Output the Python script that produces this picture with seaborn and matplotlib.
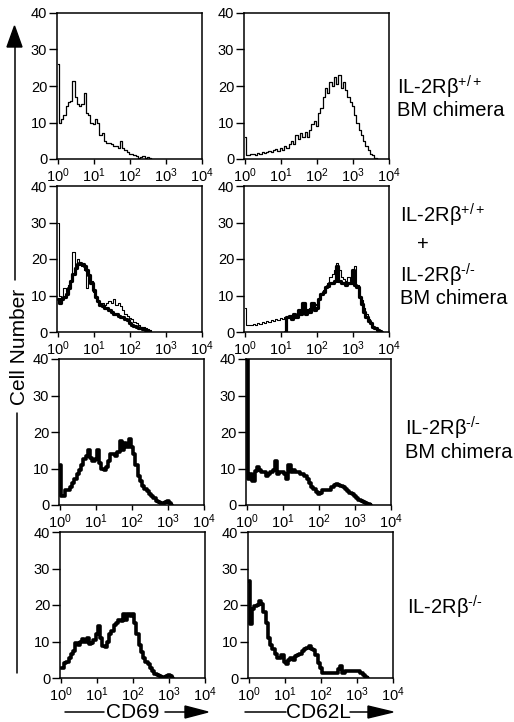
import numpy as np
import pandas as pd
import matplotlib
matplotlib.use("Agg")
import matplotlib.pyplot as plt
from matplotlib.lines import Line2D
from matplotlib.patches import Polygon
from matplotlib.ticker import LogFormatterMathtext, FixedLocator, NullLocator
import seaborn as sns

# ---- data: cell counts per log channel (16 channels per decade, from 10^0) ----
decades = [0, 1, 2, 3, 4]
y_ticks = [0, 10, 20, 30, 40]
markers = ["CD69", "CD62L"]

cd69_wt = [26, 10, 11, 12, 14.5, 15.5, 16, 21.5, 17, 15, 14.5, 15, 18, 12.5, 12, 10,
           9.5, 11, 10, 6.5, 7, 5, 4.5, 4.5, 4, 3.5, 3.5, 3, 5, 3, 2.5, 2,
           1.5, 1.5, 1, 0.7, 0.4, 0.6, 0.8, 0.4, 0.6, 0.3, 0]
cd62l_wt = [6, 1.2, 1.0, 1.3, 1.5, 1.2, 1.6, 1.4, 1.8, 1.6, 2.0, 2.2, 2.0, 2.5, 2.8, 2.2,
            3.0, 2.5, 3.5, 3.0, 4.0, 4.8, 4.0, 6.5, 5.5, 7.0, 6.0, 7.5, 6.0, 8.0, 9.5, 10.5,
            9.0, 12.5, 14.0, 17.0, 19.5, 18.0, 21.0, 20.0, 22.5, 20.5, 23.0, 19.5, 21.0, 19.0,
            17.0, 15.5, 14.5, 12.0, 10.0, 8.0, 6.5, 5.0, 3.5, 2.5, 1.5, 1.0, 0.3, 0]

cd69_mix_wt = [30, 10, 9, 12, 11, 13, 14, 22, 18, 20, 19, 18, 17, 12, 15, 14,
               11, 10, 8.5, 8, 8, 7.5, 8, 8.5, 8, 9, 7.5, 8, 7, 6, 5, 4.5,
               3.7, 3.5, 2.8, 2.4, 2, 1.5, 1.5, 1, 0.8, 0.5, 0]
cd69_mix_ko = [9, 8, 9, 9.5, 10.5, 12, 14, 16, 17.5, 18.5, 19, 18.5, 18, 17, 15.5, 13.5,
               11.5, 9.5, 8.5, 7.5, 7, 6.5, 6.5, 6, 5.5, 5, 5, 4.5, 4.2, 4, 3.5, 3.2,
               2.5, 2, 1.7, 1.5, 1.2, 1, 0.8, 0.5, 0.3, 0]
cd62l_mix_wt = [6.5, 2, 1.8, 2, 2.2, 2, 2.5, 2.3, 2.8, 2.5, 3, 2.8, 3.2, 3, 3.5, 3.3,
                3.7, 3.5, 4.2, 4, 4.5, 4.2, 4.8, 5, 5, 5.5, 5.5, 6, 6, 6.5, 7, 7.5,
                7.8, 9, 10.6, 11.5, 12.4, 13.5, 15, 16, 17, 18.8, 17, 15, 14.5, 14,
                15, 14, 16, 18, 13, 10, 8.8, 6.5, 5, 3.5, 2.4, 1.5, 1, 0.5, 0.3, 0]
cd62l_mix_ko_start = 18
cd62l_mix_ko = [0, 4, 4.5, 3.5, 5, 4, 6, 5, 8, 5, 6, 5.5, 8, 6, 6.5, 9,
                10.5, 11, 12.4, 12.5, 13.3, 13.5, 14, 18, 14, 13.5, 13.3, 13, 13.3, 13.5,
                17, 13, 12.4, 9.5, 7.8, 5.5, 4.2, 3, 2.4, 1.5, 1, 0.5, 0.3, 0]

cd69_ko_chim = [11, 2.5, 2.5, 4, 4, 4.8, 6, 7, 8.4, 9.5, 11, 12.5, 13.5, 15, 13, 12,
                12.5, 15, 11.5, 10, 9.5, 10.5, 12, 14, 14, 13.5, 14.5, 17.5, 15, 17, 16, 18,
                16, 14, 11, 8, 6.5, 5.2, 4.5, 3.7, 3, 2.4, 1.8, 1.1, 0.8, 0.6, 0.6, 0.8,
                1.1, 0.5, 0]
cd62l_ko_chim = [40, 7, 8.4, 6.5, 9.4, 10.3, 9.5, 9, 9, 8, 8.5, 9, 9.5, 12, 8.5, 9,
                 9, 8.4, 7, 11, 9, 9.5, 9, 9, 8.5, 8.4, 8, 7, 6, 5, 4.5, 3.5,
                 3, 3.2, 4, 4, 4, 4.2, 4.8, 5.5, 5.7, 5.5, 5.2, 5, 4.5, 3.8, 3.4, 3,
                 2.5, 2, 1.5, 1.1, 0.8, 0.5, 0.3, 0]

cd69_ko = [2.8, 2.8, 4, 4.5, 5.5, 6.5, 7.5, 9.7, 9, 10, 10.6, 10, 11, 9.2, 9.7, 10.5,
           12, 14.3, 11, 8.7, 8.5, 10, 12, 13, 14.5, 15, 16, 15.5, 17.5, 16, 17.5, 17,
           17.5, 15, 12, 9, 7, 5.5, 4.5, 3.7, 2.8, 1.8, 1.2, 0.9, 0.5, 0.3, 0.2, 0.5,
           0.9, 0.5, 0]
cd62l_ko = [26.7, 14.7, 19, 19.8, 20, 21, 20.2, 18, 15, 11, 9, 8, 6.5, 5.5, 5.5, 6.4,
            4.5, 3.7, 5, 5.5, 5, 6, 6.4, 6.5, 7.5, 8, 8.3, 8.7, 8, 7.8, 6.4, 4,
            2.8, 1.4, 1.4, 1.4, 1.4, 1.5, 1.4, 1.4, 2.5, 3.2, 1.5, 1.8, 2, 1.8, 2, 2,
            2, 2, 1.4, 0.7, 0.3, 0]

THIN, THICK = 0.9, 2.6

# panels: (row, column, [(counts, first channel, line width), ...])
panels = [
    (0, 0, [(cd69_wt, 0, THIN)]),
    (0, 1, [(cd62l_wt, 0, THIN)]),
    (1, 0, [(cd69_mix_wt, 0, 0.8), (cd69_mix_ko, 0, 2.3)]),
    (1, 1, [(cd62l_mix_wt, 0, 0.8), (cd62l_mix_ko, cd62l_mix_ko_start, 2.3)]),
    (2, 0, [(cd69_ko_chim, 0, THICK)]),
    (2, 1, [(cd62l_ko_chim, 0, THICK)]),
    (3, 0, [(cd69_ko, 0, THICK)]),
    (3, 1, [(cd62l_ko, 0, THICK)]),
]

row_labels = [
    ["IL-2Rβ$^{+/+}$", "BM chimera"],
    ["IL-2Rβ$^{+/+}$", "+", "IL-2Rβ$^{\\text{-/-}}$", "BM chimera"],
    ["IL-2Rβ$^{\\text{-/-}}$", "BM chimera"],
    ["IL-2Rβ$^{\\text{-/-}}$"],
]

# ---- style ----
sns.set_style("ticks")
plt.rcParams["font.family"] = ["Liberation Sans", "DejaVu Sans"]
plt.rcParams["mathtext.fontset"] = "custom"
plt.rcParams["mathtext.rm"] = "Liberation Sans"
plt.rcParams["mathtext.it"] = "Liberation Sans:italic"
plt.rcParams["mathtext.bf"] = "Liberation Sans:bold"
plt.rcParams["mathtext.default"] = "regular"
for key in ["text.color", "axes.labelcolor", "xtick.color", "ytick.color", "axes.edgecolor"]:
    plt.rcParams[key] = "black"

W, H = 514, 722
fig = plt.figure(figsize=(W / 100, H / 100), dpi=100)
fig.patch.set_facecolor("white")


def fx(x):
    return x / W


def fy(y):
    return 1 - y / H


col_left = [[57, 244], [57, 244], [59, 246], [60, 248]]
row_top = [13, 186, 359, 532]
ax_w, ax_h = 145, 146

channel = np.arange(65) / 16.0

for row, col, series in panels:
    x0 = col_left[row][col]
    ax = fig.add_axes([fx(x0), fy(row_top[row] + ax_h), ax_w / W, ax_h / H])
    for counts, start, lw in series:
        ch = channel[start:start + len(counts)]
        df = pd.DataFrame({"fluorescence": 10 ** ch, "cells": counts})
        sns.lineplot(data=df, x="fluorescence", y="cells", ax=ax, color="black",
                     lw=lw, drawstyle="steps-mid", sort=True, estimator=None)
    ax.set_xscale("log")
    ax.set_xlim(10 ** -0.02, 10 ** 4)
    ax.set_ylim(0, 40)
    ax.xaxis.set_major_locator(FixedLocator([10.0 ** d for d in decades]))
    ax.xaxis.set_minor_locator(NullLocator())
    ax.xaxis.set_major_formatter(LogFormatterMathtext())
    ax.set_yticks(y_ticks)
    ax.set_xlabel("")
    ax.set_ylabel("")
    for s in ax.spines.values():
        s.set_linewidth(1.1)
        s.set_color("black")
    ax.tick_params(axis="x", length=3.5, width=1, pad=1.5, labelsize=10.5, colors="black")
    ax.tick_params(axis="y", length=6, width=1, pad=1, labelsize=10.5, colors="black")

# group labels on the right
label_pos = [
    [(397, 87), (397, 110)],
    [(400, 215), (417, 245), (400, 275), (400, 298)],
    [(405, 428), (405, 453)],
    [(407, 607)],
]
for texts, poss in zip(row_labels, label_pos):
    for t, (px_, py_) in zip(texts, poss):
        fig.text(fx(px_), fy(py_), t, ha="left", va="center", fontsize=14.5, color="black")


def hline(x1, x2, y, lw=1.1):
    fig.add_artist(Line2D([fx(x1), fx(x2)], [fy(y), fy(y)], color="black", lw=lw,
                          transform=fig.transFigure))


def head_right(xb, xt, y, half):
    fig.add_artist(Polygon([(fx(xb), fy(y - half)), (fx(xt), fy(y)), (fx(xb), fy(y + half))],
                           closed=True, color="black", transform=fig.transFigure))


# x-axis titles with arrows
fig.text(fx(133), fy(712), markers[0], ha="center", va="center", fontsize=15)
hline(65, 104, 712)
hline(165, 188, 712)
head_right(185, 208, 712, 6)

fig.text(fx(318), fy(712), markers[1], ha="center", va="center", fontsize=15)
hline(245, 286, 712)
hline(350, 370, 712)
head_right(368, 393, 712, 6)

# y-axis title with arrow
fig.add_artist(Line2D([fx(15), fx(15)], [fy(45), fy(280)], color="black", lw=1.1,
                      transform=fig.transFigure))
fig.add_artist(Line2D([fx(17), fx(17)], [fy(413), fy(673)], color="black", lw=1.1,
                      transform=fig.transFigure))
fig.add_artist(Polygon([(fx(7), fy(47)), (fx(14.5), fy(26)), (fx(22), fy(47))],
                       closed=True, color="black", transform=fig.transFigure))
fig.text(fx(20), fy(347), "Cell Number", rotation=90, ha="center", va="center", fontsize=15)

fig.savefig("out.png", dpi=100, facecolor="white")
